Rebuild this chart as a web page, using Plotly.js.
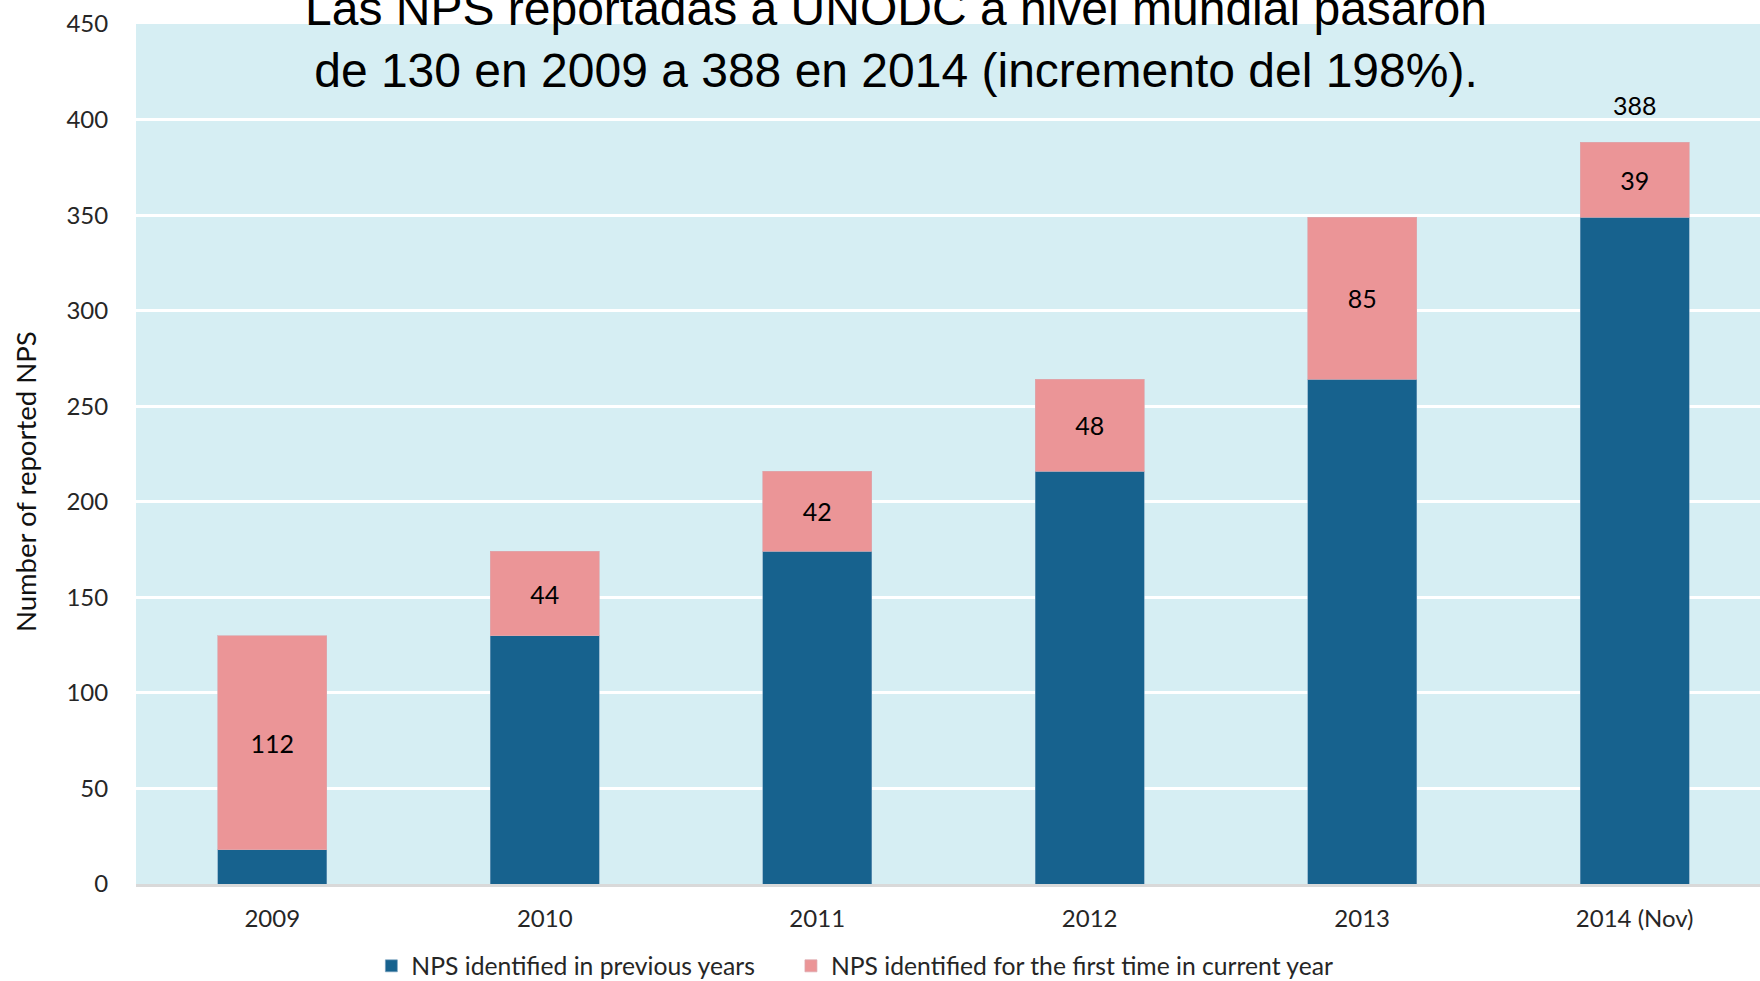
<!DOCTYPE html>
<html>
<head>
<meta charset="utf-8">
<script src="https://cdn.plot.ly/plotly-3.0.1.min.js"></script>
<style>
  html, body { margin: 0; padding: 0; background: #ffffff; }
  #chart { width: 1760px; height: 981px; }
</style>
</head>
<body>
<div id="chart"></div>
<script>
const years = ["2009", "2010", "2011", "2012", "2013", "2014 (Nov)"];
const previousYears = [18, 130, 174, 216, 264, 349];
const firstTime = [112, 44, 42, 48, 85, 39];
const totals = [130, 174, 216, 264, 349, 388];
const yTicks = [0, 50, 100, 150, 200, 250, 300, 350, 400, 450];

const seriesNames = ["NPS identified in previous years", "NPS identified for the first time in current year"];
const titleText = "Las NPS reportadas a UNODC a nivel mundial pasaron<br>de 130 en 2009 a 388 en 2014 (incremento del 198%).";
const yTitleText = "Number of reported NPS";

const FONT = "Lato, 'Open Sans', sans-serif";

const traces = [
  {
    type: "bar",
    name: seriesNames[0],
    legend: "legend",
    x: years,
    y: previousYears,
    marker: { color: "#17628e", line: { color: "rgba(120,160,190,0.6)", width: 1 } },
    hoverinfo: "x+y"
  },
  {
    type: "bar",
    name: seriesNames[1],
    legend: "legend2",
    x: years,
    y: firstTime,
    text: firstTime.map(String),
    textposition: "inside",
    insidetextanchor: "middle",
    textangle: 0,
    constraintext: "none",
    textfont: { family: FONT, size: 25, color: "#000000" },
    marker: { color: "#eb9597", line: { color: "rgba(220,170,175,0.7)", width: 1 } },
    hoverinfo: "x+y"
  }
];

const annotations = years.map((yr, i) => ({
  x: yr,
  y: totals[i],
  xref: "x",
  yref: "y",
  text: String(totals[i]),
  showarrow: false,
  yanchor: "middle",
  yshift: 37,
  font: { family: FONT, size: 25, color: "#000000" }
}));

annotations.push({
  xref: "paper", yref: "paper",
  x: 0.468, y: 0.982,
  xanchor: "center", yanchor: "middle",
  text: titleText,
  showarrow: false,
  font: { family: "'Liberation Sans', Arial, sans-serif", size: 48, color: "#000000" }
});

annotations.push({
  xref: "paper", yref: "paper",
  x: -0.068, y: 0.468,
  xanchor: "center", yanchor: "middle",
  textangle: -90,
  text: yTitleText,
  showarrow: false,
  font: { family: FONT, size: 27.5, color: "#111111" }
});

const legendCommon = {
  orientation: "h",
  xref: "container",
  yref: "container",
  y: 0.015,
  xanchor: "left",
  yanchor: "middle",
  font: { family: FONT, size: 24.7, color: "#262626" },
  bgcolor: "rgba(0,0,0,0)",
  itemclick: false,
  itemdoubleclick: false
};

const layout = {
  width: 1760,
  height: 981,
  margin: { l: 136, r: 0, t: 24, b: 97, autoexpand: false },
  paper_bgcolor: "#ffffff",
  plot_bgcolor: "#d6eef3",
  barmode: "stack",
  bargap: 0.6,
  showlegend: true,
  xaxis: {
    type: "category",
    range: [-0.5, 5.46],
    showgrid: false,
    showline: true,
    linecolor: "#d9d9d9",
    linewidth: 3,
    ticks: "outside",
    ticklen: 11,
    tickcolor: "rgba(0,0,0,0)",
    tickfont: { family: FONT, size: 24, color: "#262626" },
    fixedrange: true
  },
  yaxis: {
    range: [0, 450],
    tickvals: yTicks,
    showgrid: true,
    gridcolor: "#ffffff",
    gridwidth: 3,
    zeroline: false,
    showline: false,
    ticks: "outside",
    ticklen: 22,
    tickcolor: "rgba(0,0,0,0)",
    tickfont: { family: FONT, size: 24, color: "#262626" },
    fixedrange: true
  },
  legend: Object.assign({}, legendCommon, { x: 0.211 }),
  legend2: Object.assign({}, legendCommon, { x: 0.4494 }),
  annotations: annotations
};

Plotly.newPlot("chart", traces, layout, { displayModeBar: false, staticPlot: true });
</script>
</body>
</html>
